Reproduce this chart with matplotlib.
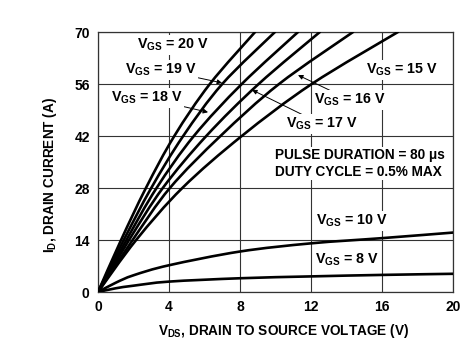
import matplotlib
matplotlib.use("Agg")
import matplotlib.pyplot as plt
from matplotlib.path import Path
from matplotlib.patches import PathPatch

plt.rcParams['font.family'] = ['Liberation Sans', 'DejaVu Sans']
plt.rcParams['font.weight'] = 'bold'
plt.rcParams['mathtext.fontset'] = 'custom'
plt.rcParams['mathtext.rm'] = 'Liberation Sans:bold'
plt.rcParams['mathtext.it'] = 'Liberation Sans:bold'
plt.rcParams['mathtext.bf'] = 'Liberation Sans:bold'
plt.rcParams['mathtext.sf'] = 'Liberation Sans:bold'

# High-VGS curves: drain-source voltage read at given drain current levels
i_levels = [0, 14, 28, 42, 56, 70]
v_vgs20 = [0, 1.3, 2.7, 4.3, 6.3, 8.85]
v_vgs19 = [0, 1.45, 3.0, 4.8, 7.0, 9.97]
v_vgs18 = [0, 1.6, 3.3, 5.4, 8.1, 11.27]
v_vgs17 = [0, 1.75, 3.65, 6.1, 9.05, 12.5]
v_vgs16 = [0, 1.95, 4.05, 6.9, 10.2, 14.37]
v_vgs15 = [0, 2.15, 4.75, 8.1, 12.04, 16.9]

# Low-VGS curves: drain current read at given voltages
v_levels = [0, 1, 2, 4, 8, 12, 16, 20]
i_vgs10 = [0, 2.5, 4.5, 7.2, 10.9, 13.1, 14.5, 16.0]
i_vgs8 = [0, 1.0, 1.7, 2.8, 3.7, 4.2, 4.6, 4.9]

x_ticks = [0, 4, 8, 12, 16, 20]
y_ticks = [0, 14, 28, 42, 56, 70]


def smooth_path(xs, ys):
    """Catmull-Rom curve through the read points, drawn as Bezier path."""
    pts = list(zip(xs, ys))
    n = len(pts)
    verts = [pts[0]]
    codes = [Path.MOVETO]
    for k in range(n - 1):
        p0 = pts[k - 1] if k > 0 else pts[k]
        p1 = pts[k]
        p2 = pts[k + 1]
        p3 = pts[k + 2] if k + 2 < n else pts[k + 1]
        c1 = (p1[0] + (p2[0] - p0[0]) / 6.0, p1[1] + (p2[1] - p0[1]) / 6.0)
        c2 = (p2[0] - (p3[0] - p1[0]) / 6.0, p2[1] - (p3[1] - p1[1]) / 6.0)
        verts += [c1, c2, p2]
        codes += [Path.CURVE4] * 3
    return Path(verts, codes)


fig = plt.figure(figsize=(4.77, 3.55), dpi=100)
ax = fig.add_axes([98/477, 1-292/355, 355/477, 260/355])

lw = 1.9
for v in [v_vgs20, v_vgs19, v_vgs18, v_vgs17, v_vgs16, v_vgs15]:
    ax.add_patch(PathPatch(smooth_path(v, i_levels), facecolor='none',
                           edgecolor='black', lw=lw, zorder=3, capstyle='round'))
for i in [i_vgs10, i_vgs8]:
    ax.add_patch(PathPatch(smooth_path(v_levels, i), facecolor='none',
                           edgecolor='black', lw=lw, zorder=3, capstyle='round'))

ax.set_xlim(0, 20)
ax.set_ylim(0, 70)
ax.set_xticks(x_ticks)
ax.set_yticks(y_ticks)
ax.set_xticklabels([str(t) for t in x_ticks], fontsize=10, fontweight='bold')
ax.set_yticklabels([str(t) for t in y_ticks], fontsize=10, fontweight='bold')
ax.tick_params(length=0, pad=6)
ax.grid(True, color='#333333', lw=0.8, zorder=1)
for s in ax.spines.values():
    s.set_color('#333333')
    s.set_linewidth(0.9)

ax.set_xlabel(r'$V_{DS}$, DRAIN TO SOURCE VOLTAGE (V)', fontsize=9.8, fontweight='bold')
ax.xaxis.set_label_coords(0.524, -0.115)
ax.set_ylabel(r'$I_{D}$, DRAIN CURRENT (A)', fontsize=9.8, fontweight='bold')
ax.yaxis.set_label_coords(-0.11, 0.45)

fs = 10.3
box = dict(facecolor='white', edgecolor='none', pad=1.0)
ap = dict(arrowstyle='-|>', lw=0.7, color='black', mutation_scale=7, shrinkA=0, shrinkB=0)

ax.text(4.2, 66.5, r'$V_{GS}$ = 20 V', fontsize=fs, ha='center', va='center', bbox=box, zorder=4)
ax.annotate(r'$V_{GS}$ = 19 V', xy=(6.99, 56.3), xytext=(3.55, 59.8), fontsize=fs,
            ha='center', va='center', bbox=box, arrowprops=ap, zorder=4)
ax.annotate(r'$V_{GS}$ = 18 V', xy=(6.2, 48.4), xytext=(2.75, 52.2), fontsize=fs,
            ha='center', va='center', bbox=box, arrowprops=ap, zorder=4)
ax.annotate(r'$V_{GS}$ = 16 V', xy=(11.27, 58.4), xytext=(14.2, 51.7), fontsize=fs,
            ha='center', va='center', bbox=box, arrowprops=ap, zorder=4)
ax.annotate(r'$V_{GS}$ = 17 V', xy=(8.68, 54.4), xytext=(12.6, 45.2), fontsize=fs,
            ha='center', va='center', bbox=box, arrowprops=ap, zorder=4)
ax.text(17.1, 59.8, r'$V_{GS}$ = 15 V', fontsize=fs, ha='center', va='center', bbox=box, zorder=4)
ax.text(9.97, 34.6, 'PULSE DURATION = 80 μs\nDUTY CYCLE = 0.5% MAX', fontsize=9.8,
        ha='left', va='center', linespacing=1.25, bbox=box, zorder=4)
ax.text(14.3, 19.1, r'$V_{GS}$ = 10 V', fontsize=fs, ha='center', va='center', bbox=box, zorder=4)
ax.text(14.0, 8.6, r'$V_{GS}$ = 8 V', fontsize=fs, ha='center', va='center', bbox=box, zorder=4)

fig.savefig('out.png', dpi=100, facecolor='white')
